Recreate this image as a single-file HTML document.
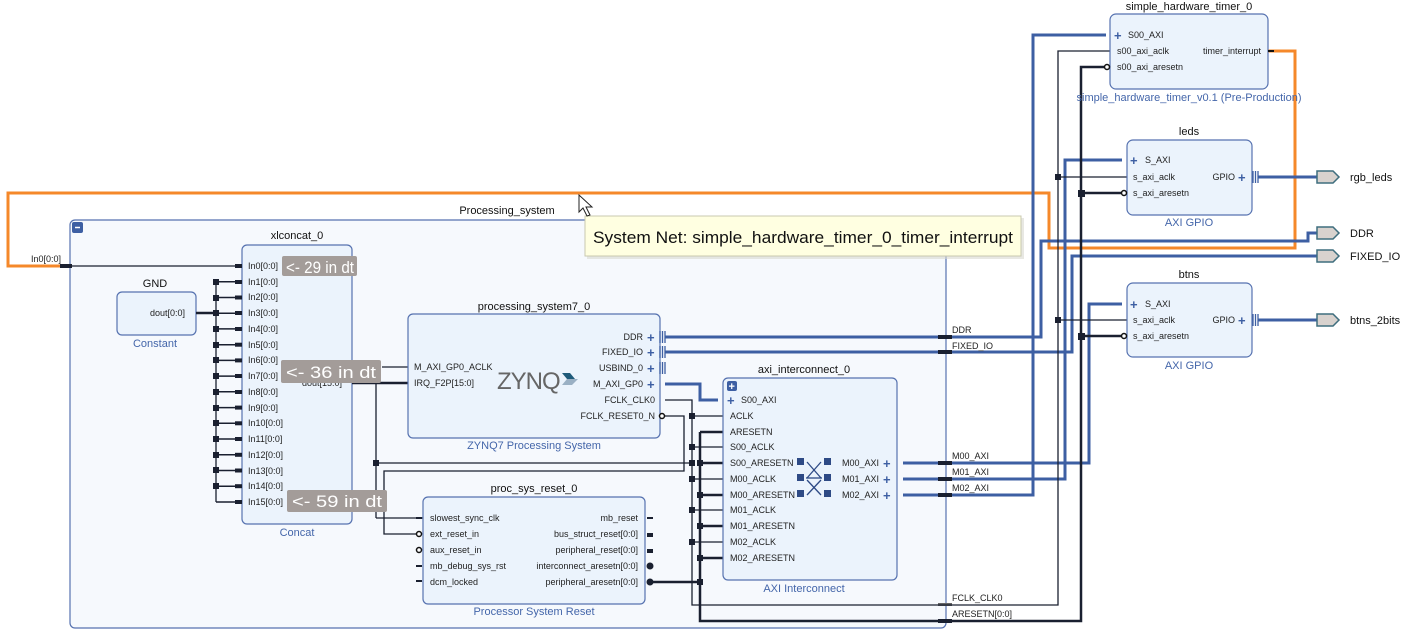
<!DOCTYPE html>
<html><head><meta charset="utf-8"><style>
html,body{margin:0;padding:0;background:#fff;}
svg{display:block;font-family:"Liberation Sans","DejaVu Sans",sans-serif;}
.p{font-size:9px;fill:#222;}
.t{font-size:11px;fill:#111;text-anchor:middle;}
.s{font-size:11px;fill:#4466aa;text-anchor:middle;}
.blk{fill:#ebf3fc;stroke:#5672b0;stroke-width:1.2;}
.bus{stroke:#3d5fa3;stroke-width:3;fill:none;}
.w{stroke:#1a2030;stroke-width:1.3;fill:none;}
.ww{stroke:#1a2030;stroke-width:2.5;fill:none;}
.pl{font-size:13px;fill:#3d5fa3;font-weight:bold;}
.badge{fill:#a39c99;}
.bt{font-size:17px;fill:#fff;}
</style></head><body>
<svg width="1401" height="633" viewBox="0 0 1401 633" xmlns="http://www.w3.org/2000/svg">
<text x="507" y="214" class="t">Processing_system</text>
<rect x="70" y="220" width="876" height="408" rx="5" fill="#f6f9fd" stroke="#5672b0" stroke-width="1.2"/>
<rect x="72" y="222" width="11" height="11" rx="2" fill="#3d5fa3"/>
<line x1="75" y1="227.5" x2="80" y2="227.5" stroke="#fff" stroke-width="1.5"/>

<polyline points="1268,51 1295,51 1295,248 1049,248 1049,193 8,193 8,266 68,266" fill="none" stroke="#f5882a" stroke-width="3"/>

<text x="31" y="262" class="p" font-size="8">In0[0:0]</text>
<line x1="60" y1="266" x2="242" y2="266" class="w" stroke-width="2"/>
<rect x="60" y="264" width="12" height="4" fill="#1a2030"/>

<text x="155" y="287" class="t">GND</text>
<rect x="117" y="292" width="79" height="43" rx="5" class="blk"/>
<text x="150" y="316" class="p">dout[0:0]</text>
<text x="155" y="347" class="s">Constant</text>
<line x1="196" y1="313" x2="216" y2="313" class="ww"/>
<line x1="216" y1="281" x2="216" y2="502" class="w" stroke-width="2"/>

<text x="297" y="239" class="t">xlconcat_0</text>
<rect x="242" y="245" width="110" height="279" rx="5" class="blk"/>
<text x="297" y="536" class="s">Concat</text>
<g class="p">
<text x="248" y="269">In0[0:0]</text><text x="248" y="285">In1[0:0]</text><text x="248" y="300">In2[0:0]</text><text x="248" y="316">In3[0:0]</text>
<text x="248" y="332">In4[0:0]</text><text x="248" y="348">In5[0:0]</text><text x="248" y="363">In6[0:0]</text><text x="248" y="379">In7[0:0]</text>
<text x="248" y="395">In8[0:0]</text><text x="248" y="411">In9[0:0]</text><text x="248" y="426">In10[0:0]</text><text x="248" y="442">In11[0:0]</text>
<text x="248" y="458">In12[0:0]</text><text x="248" y="474">In13[0:0]</text><text x="248" y="489">In14[0:0]</text><text x="248" y="505">In15[0:0]</text>
<text x="302" y="386">dout[15:0]</text>
</g>
<g stroke="#1a2030" stroke-width="1.5">
<line x1="216" y1="281.7" x2="242" y2="281.7"/><line x1="216" y1="297.5" x2="242" y2="297.5"/><line x1="216" y1="313.2" x2="242" y2="313.2"/>
<line x1="216" y1="328.9" x2="242" y2="328.9"/><line x1="216" y1="344.7" x2="242" y2="344.7"/><line x1="216" y1="360.4" x2="242" y2="360.4"/>
<line x1="216" y1="376.1" x2="242" y2="376.1"/><line x1="216" y1="391.8" x2="242" y2="391.8"/><line x1="216" y1="407.6" x2="242" y2="407.6"/>
<line x1="216" y1="423.3" x2="242" y2="423.3"/><line x1="216" y1="439" x2="242" y2="439"/><line x1="216" y1="454.8" x2="242" y2="454.8"/>
<line x1="216" y1="470.5" x2="242" y2="470.5"/><line x1="216" y1="486.2" x2="242" y2="486.2"/><line x1="216" y1="502" x2="242" y2="502"/>
</g>
<g fill="#1a2030">
<rect x="235" y="264" width="7" height="4"/><rect x="235" y="280" width="7" height="4"/><rect x="235" y="295.5" width="7" height="4"/><rect x="235" y="311" width="7" height="4"/>
<rect x="235" y="327" width="7" height="4"/><rect x="235" y="342.7" width="7" height="4"/><rect x="235" y="358.4" width="7" height="4"/><rect x="235" y="374" width="7" height="4"/>
<rect x="235" y="390" width="7" height="4"/><rect x="235" y="405.6" width="7" height="4"/><rect x="235" y="421.3" width="7" height="4"/><rect x="235" y="437" width="7" height="4"/>
<rect x="235" y="452.8" width="7" height="4"/><rect x="235" y="468.5" width="7" height="4"/><rect x="235" y="484.2" width="7" height="4"/><rect x="235" y="500" width="7" height="4"/>
<rect x="213" y="279" width="6" height="6"/><rect x="213" y="295" width="6" height="6"/><rect x="213" y="310" width="6" height="6"/><rect x="213" y="326" width="6" height="6"/>
<rect x="213" y="342" width="6" height="6"/><rect x="213" y="357" width="6" height="6"/><rect x="213" y="373" width="6" height="6"/><rect x="213" y="389" width="6" height="6"/>
<rect x="213" y="405" width="6" height="6"/><rect x="213" y="420" width="6" height="6"/><rect x="213" y="436" width="6" height="6"/><rect x="213" y="452" width="6" height="6"/>
<rect x="213" y="467" width="6" height="6"/><rect x="213" y="483" width="6" height="6"/>
</g>

<line x1="352" y1="383" x2="408" y2="383" class="ww"/>
<line x1="382" y1="367" x2="408" y2="367" class="w"/>
<line x1="376" y1="383" x2="376" y2="518" class="w"/>
<line x1="376" y1="518" x2="423" y2="518" class="w"/>
<line x1="376" y1="463" x2="692" y2="463" class="w"/>
<rect x="373" y="460" width="6" height="6" fill="#1a2030"/>
<polyline points="665,416 684,416 684,471 384,471 384,534 420,534" class="w"/>

<text x="534" y="310" class="t">processing_system7_0</text>
<rect x="408" y="314" width="252" height="124" rx="5" class="blk"/>
<text x="534" y="449" class="s">ZYNQ7 Processing System</text>
<g class="p">
<text x="414" y="370">M_AXI_GP0_ACLK</text><text x="414" y="386">IRQ_F2P[15:0]</text>
<text x="643" y="340" text-anchor="end">DDR</text><text x="643" y="355" text-anchor="end">FIXED_IO</text>
<text x="643" y="371" text-anchor="end">USBIND_0</text><text x="643" y="387" text-anchor="end">M_AXI_GP0</text>
<text x="655" y="403" text-anchor="end">FCLK_CLK0</text><text x="655" y="419" text-anchor="end">FCLK_RESET0_N</text>
</g>
<g class="pl"><text x="647" y="342">+</text><text x="647" y="357">+</text><text x="647" y="373">+</text><text x="647" y="389">+</text></g>
<text x="497" y="389" font-size="24" fill="#666" letter-spacing="-1">ZYNQ</text>
<polygon points="562,373 570,373 575,379 567,379" fill="#1e5a7a"/><polygon points="567,379 578,379 572,385 562,385" fill="#9ab0c4"/>
<g stroke="#3d5fa3" stroke-width="1.3"><line x1="660" y1="331" x2="660" y2="343"/><line x1="662.5" y1="331" x2="662.5" y2="343"/><line x1="665" y1="331" x2="665" y2="343"/>
<line x1="660" y1="346" x2="660" y2="358"/><line x1="662.5" y1="346" x2="662.5" y2="358"/><line x1="665" y1="346" x2="665" y2="358"/>
<line x1="660" y1="362" x2="660" y2="374"/><line x1="662.5" y1="362" x2="662.5" y2="374"/><line x1="665" y1="362" x2="665" y2="374"/></g>

<polyline points="665,337 1041,337 1041,241 1308,241 1308,233 1320,233" class="bus"/>
<polyline points="665,352 1072,352 1072,256 1320,256" class="bus"/>
<polyline points="665,384 700,384 700,400 718,400" class="bus"/>
<polyline points="903,463 1089,463 1089,304 1122,304" class="bus"/>
<polyline points="903,479 1065,479 1065,160 1122,160" class="bus"/>
<polyline points="903,495 1033,495 1033,35 1106,35" class="bus"/>
<line x1="1258" y1="177" x2="1320" y2="177" class="bus"/>
<line x1="1258" y1="320" x2="1320" y2="320" class="bus"/>
<g fill="#1a2030"><rect x="938" y="335" width="14" height="4"/><rect x="938" y="350" width="14" height="4"/><rect x="938" y="461" width="14" height="4"/><rect x="938" y="477" width="14" height="4"/><rect x="938" y="493" width="14" height="4"/><rect x="938" y="603" width="14" height="3" fill="#666"/><rect x="938" y="619" width="14" height="4"/></g>
<g class="p" font-size="8.5"><text x="952" y="333">DDR</text><text x="952" y="349">FIXED_IO</text><text x="952" y="459">M00_AXI</text><text x="952" y="475">M01_AXI</text><text x="952" y="491">M02_AXI</text><text x="952" y="601">FCLK_CLK0</text><text x="952" y="617">ARESETN[0:0]</text></g>

<polyline points="665,400 692,400 692,605 1058,605 1058,51 1110,51" class="w"/>
<polyline points="650,582 700,582" class="ww"/>
<polyline points="700,432 700,621 1081,621 1081,67 1106,67" class="ww"/>
<line x1="1058" y1="177" x2="1127" y2="177" class="w"/><line x1="1058" y1="320" x2="1127" y2="320" class="w"/>
<line x1="1081" y1="193" x2="1123" y2="193" class="ww"/><line x1="1081" y1="336" x2="1123" y2="336" class="ww"/>
<g fill="#1a2030"><rect x="1055" y="174" width="6" height="6"/><rect x="1055" y="317" width="6" height="6"/><rect x="1078" y="190" width="7" height="7"/><rect x="1078" y="333" width="7" height="7"/></g>
<g stroke="#1a2030" stroke-width="1.3">
<line x1="692" y1="416" x2="723" y2="416"/><line x1="692" y1="447" x2="723" y2="447"/><line x1="692" y1="479" x2="723" y2="479"/><line x1="692" y1="510" x2="723" y2="510"/><line x1="692" y1="542" x2="723" y2="542"/></g>
<g stroke="#1a2030" stroke-width="2.5">
<line x1="700" y1="432" x2="723" y2="432"/><line x1="700" y1="463" x2="723" y2="463"/><line x1="700" y1="495" x2="723" y2="495"/><line x1="700" y1="526" x2="723" y2="526"/><line x1="700" y1="558" x2="723" y2="558"/></g>
<g fill="#1a2030"><rect x="689" y="413" width="6" height="6"/><rect x="689" y="444" width="6" height="6"/><rect x="689" y="460" width="6" height="6"/><rect x="689" y="476" width="6" height="6"/><rect x="689" y="507" width="6" height="6"/><rect x="689" y="539" width="6" height="6"/>
<rect x="697" y="460" width="6" height="6"/><rect x="697" y="492" width="6" height="6"/><rect x="697" y="523" width="6" height="6"/><rect x="697" y="555" width="6" height="6"/><rect x="697" y="579" width="6" height="6"/></g>

<text x="534" y="492" class="t">proc_sys_reset_0</text>
<rect x="423" y="497" width="222" height="107" rx="5" class="blk"/>
<text x="534" y="615" class="s">Processor System Reset</text>
<g class="p">
<text x="430" y="521">slowest_sync_clk</text><text x="430" y="537">ext_reset_in</text><text x="430" y="553">aux_reset_in</text><text x="430" y="569">mb_debug_sys_rst</text><text x="430" y="585">dcm_locked</text>
<text x="638" y="521" text-anchor="end">mb_reset</text><text x="638" y="537" text-anchor="end">bus_struct_reset[0:0]</text><text x="638" y="553" text-anchor="end">peripheral_reset[0:0]</text><text x="638" y="569" text-anchor="end">interconnect_aresetn[0:0]</text><text x="638" y="585" text-anchor="end">peripheral_aresetn[0:0]</text>
</g>
<g fill="#1a2030"><rect x="416" y="517" width="6" height="2"/><rect x="416" y="565" width="6" height="2"/><rect x="416" y="580" width="6" height="2"/>
<rect x="647" y="517" width="6" height="2"/><rect x="647" y="533" width="6" height="4"/><rect x="647" y="549" width="6" height="4"/>
<circle cx="650" cy="566" r="3.5"/><circle cx="650" cy="582" r="3.5"/></g>
<circle cx="419" cy="534" r="2.5" fill="#fff" stroke="#111" stroke-width="1.5"/><circle cx="419" cy="550" r="2.5" fill="#fff" stroke="#111" stroke-width="1.5"/>
<circle cx="662" cy="416" r="2.5" fill="#fff" stroke="#111" stroke-width="1.5"/>

<text x="804" y="373" class="t">axi_interconnect_0</text>
<rect x="723" y="378" width="174" height="202" rx="5" class="blk"/>
<text x="804" y="592" class="s">AXI Interconnect</text>
<rect x="727" y="381" width="10" height="10" rx="2" fill="#3d5fa3"/><text x="728.5" y="390" font-size="11" fill="#fff" font-weight="bold">+</text>
<g class="p">
<text x="741" y="403">S00_AXI</text><text x="730" y="419">ACLK</text><text x="730" y="435">ARESETN</text><text x="730" y="450">S00_ACLK</text><text x="730" y="466">S00_ARESETN</text>
<text x="730" y="482">M00_ACLK</text><text x="730" y="498">M00_ARESETN</text><text x="730" y="513">M01_ACLK</text><text x="730" y="529">M01_ARESETN</text><text x="730" y="545">M02_ACLK</text><text x="730" y="561">M02_ARESETN</text>
<text x="879" y="466" text-anchor="end">M00_AXI</text><text x="879" y="482" text-anchor="end">M01_AXI</text><text x="879" y="498" text-anchor="end">M02_AXI</text>
</g>
<g class="pl"><text x="727" y="405">+</text><text x="883" y="468">+</text><text x="883" y="484">+</text><text x="883" y="500">+</text></g>
<g fill="#2e4a85"><rect x="797" y="458" width="7" height="7"/><rect x="824" y="458" width="7" height="7"/><rect x="797" y="474" width="7" height="7"/><rect x="824" y="474" width="7" height="7"/><rect x="797" y="490" width="7" height="7"/><rect x="824" y="490" width="7" height="7"/></g>
<g stroke="#2e4a85" stroke-width="1.3"><line x1="807" y1="462" x2="821" y2="478"/><line x1="821" y1="462" x2="807" y2="478"/><line x1="807" y1="480" x2="821" y2="495"/><line x1="821" y1="480" x2="807" y2="495"/><line x1="806" y1="478" x2="822" y2="478"/></g>

<text x="1189" y="10" class="t">simple_hardware_timer_0</text>
<rect x="1110" y="14" width="158" height="75" rx="6" class="blk"/>
<text x="1189" y="101" class="s" font-size="10.5">simple_hardware_timer_v0.1 (Pre-Production)</text>
<g class="p"><text x="1128" y="38">S00_AXI</text><text x="1117" y="54">s00_axi_aclk</text><text x="1117" y="70">s00_axi_aresetn</text><text x="1261" y="54" text-anchor="end">timer_interrupt</text></g>
<text x="1114" y="40" class="pl">+</text>
<rect x="1268" y="50" width="6" height="2" fill="#111"/>
<circle cx="1107" cy="67" r="2.5" fill="#fff" stroke="#111" stroke-width="1.5"/>

<text x="1189" y="135" class="t">leds</text>
<rect x="1127" y="140" width="125" height="75" rx="6" class="blk"/>
<text x="1189" y="226" class="s">AXI GPIO</text>
<g class="p"><text x="1145" y="163">S_AXI</text><text x="1133" y="180">s_axi_aclk</text><text x="1133" y="196">s_axi_aresetn</text><text x="1235" y="180" text-anchor="end">GPIO</text></g>
<g class="pl"><text x="1130" y="165">+</text><text x="1238" y="182">+</text></g>
<g stroke="#3d5fa3" stroke-width="1.3"><line x1="1253" y1="171" x2="1253" y2="183"/><line x1="1255.5" y1="171" x2="1255.5" y2="183"/><line x1="1258" y1="171" x2="1258" y2="183"/></g>
<circle cx="1124" cy="193" r="2.5" fill="#fff" stroke="#111" stroke-width="1.5"/>

<text x="1189" y="278" class="t">btns</text>
<rect x="1127" y="283" width="125" height="74" rx="6" class="blk"/>
<text x="1189" y="369" class="s">AXI GPIO</text>
<g class="p"><text x="1145" y="307">S_AXI</text><text x="1133" y="323">s_axi_aclk</text><text x="1133" y="339">s_axi_aresetn</text><text x="1235" y="323" text-anchor="end">GPIO</text></g>
<g class="pl"><text x="1130" y="309">+</text><text x="1238" y="325">+</text></g>
<g stroke="#3d5fa3" stroke-width="1.3"><line x1="1253" y1="314" x2="1253" y2="326"/><line x1="1255.5" y1="314" x2="1255.5" y2="326"/><line x1="1258" y1="314" x2="1258" y2="326"/></g>
<circle cx="1124" cy="336" r="2.5" fill="#fff" stroke="#111" stroke-width="1.5"/>

<g fill="#d8d2ce" stroke="#3f6e7e" stroke-width="1.5">
<polygon points="1317,171 1333,171 1339,177 1333,183 1317,183"/>
<polygon points="1317,227 1333,227 1339,233 1333,239 1317,239"/>
<polygon points="1317,250 1333,250 1339,256 1333,262 1317,262"/>
<polygon points="1317,314 1333,314 1339,320 1333,326 1317,326"/>
</g>
<g font-size="11" fill="#111"><text x="1350" y="181">rgb_leds</text><text x="1350" y="237">DDR</text><text x="1350" y="260">FIXED_IO</text><text x="1350" y="324">btns_2bits</text></g>

<rect x="282" y="256" width="75" height="20" rx="2" class="badge"/><text x="286" y="273" class="bt" textLength="68" lengthAdjust="spacingAndGlyphs">&lt;- 29 in dt</text>
<rect x="281" y="360" width="100" height="23" rx="2" class="badge"/><text x="286" y="378" class="bt" textLength="90" lengthAdjust="spacingAndGlyphs">&lt;- 36 in dt</text>
<rect x="287" y="490" width="100" height="22" rx="2" class="badge"/><text x="292" y="507" class="bt" textLength="90" lengthAdjust="spacingAndGlyphs">&lt;- 59 in dt</text>

<rect x="587" y="218" width="437" height="41" fill="#d8d8d0" opacity="0.6"/>
<rect x="585" y="216" width="436" height="40" fill="#ffffe1" stroke="#c8c8b0"/>
<text x="593" y="243" font-size="17" fill="#111" textLength="420" lengthAdjust="spacingAndGlyphs">System Net: simple_hardware_timer_0_timer_interrupt</text>

<polygon points="579,195 579,212 583,208 587,216 590,215 586,207 592,207" fill="#fff" stroke="#222" stroke-width="1"/>
</svg>
</body></html>
